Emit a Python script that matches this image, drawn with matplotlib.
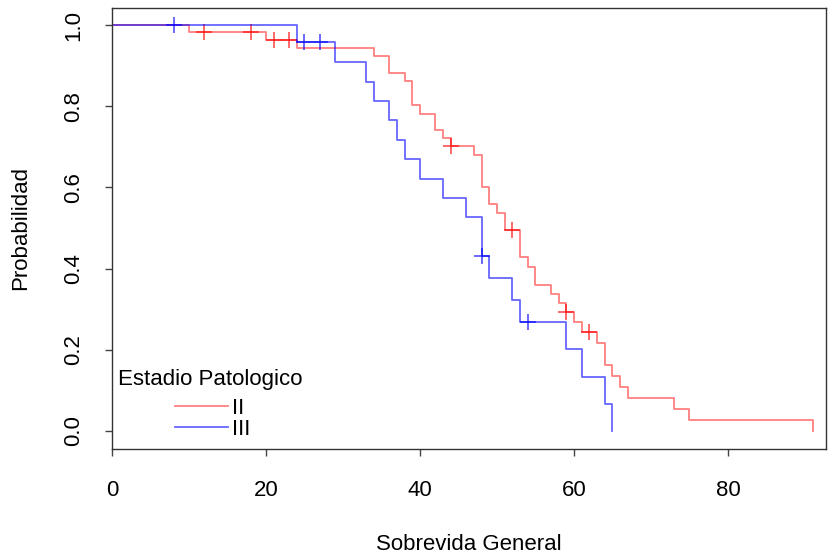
import numpy as np
import matplotlib
matplotlib.use("Agg")
import matplotlib.pyplot as plt

plt.rcParams['font.family'] = ['Liberation Sans', 'DejaVu Sans']

# Kaplan-Meier curves (event times, survival after each step)
t_ii = [0, 10, 20, 24, 34, 36, 38, 39, 40, 42, 43, 44, 47, 48, 49, 50, 51, 53, 54,
        55, 57, 58, 59, 60, 61, 63, 64, 65, 66, 67, 73, 75, 91]
s_ii = [1.0, 0.982, 0.964, 0.944, 0.923, 0.883, 0.863, 0.802, 0.782, 0.742, 0.722,
        0.702, 0.680, 0.600, 0.558, 0.538, 0.495, 0.428, 0.405, 0.360, 0.337, 0.315,
        0.292, 0.269, 0.245, 0.217, 0.163, 0.136, 0.108, 0.081, 0.054, 0.027, 0.0]
cens_ii = [12, 18, 21, 23, 44, 52, 59, 62]

t_iii = [0, 24, 29, 33, 34, 36, 37, 38, 40, 43, 46, 48, 49, 52, 53, 59, 61, 64, 65]
s_iii = [1.0, 0.958, 0.910, 0.860, 0.812, 0.766, 0.718, 0.670, 0.622, 0.574, 0.526,
         0.430, 0.376, 0.323, 0.269, 0.202, 0.134, 0.067, 0.0]
cens_iii = [8, 25, 27, 48, 54]

groups = ['II', 'III']
colors = [(1, 0, 0, 0.5), (0, 0, 1, 0.6)]
mark_colors = [(1, 0, 0, 0.75), (0, 0, 1, 0.75)]


def surv_at(times, surv, c):
    i = np.searchsorted(times, c, side='right') - 1
    return surv[i]


fig = plt.figure(figsize=(8.31, 5.55), dpi=100)
ax = fig.add_axes([112 / 831, 1 - 449 / 555, 714 / 831, 441 / 555])

data = [(t_ii, s_ii, cens_ii), (t_iii, s_iii, cens_iii)]
for k, (t, s, c) in enumerate(data):
    ax.step(t, s, where='post', color=colors[k], lw=1.3, label=groups[k])
    cy = [surv_at(t, s, x) for x in c]
    ax.plot(c, cy, ls='none', marker='+', ms=11, mew=1.1, color=mark_colors[k])

ax.set_xlim(0, 92.73)
ax.set_ylim(-0.0443, 1.042)
ax.set_xticks([0, 20, 40, 60, 80])
ax.set_yticks([0.0, 0.2, 0.4, 0.6, 0.8, 1.0])
ax.set_yticklabels(['0.0', '0.2', '0.4', '0.6', '0.8', '1.0'], rotation=90, va='center')
ax.tick_params(axis='both', labelsize=16, length=5, width=1, color='#444444')
ax.tick_params(axis='x', pad=17)
ax.tick_params(axis='y', pad=15)
for sp in ax.spines.values():
    sp.set_color('#333333')
    sp.set_linewidth(1)

ax.set_xlabel('Sobrevida General', fontsize=16, labelpad=24)
ax.set_ylabel('Probabilidad', fontsize=16, labelpad=23)

# legend entries, title placed separately (R-style spacing)
leg = ax.legend(loc='lower left', bbox_to_anchor=(63 / 714, 9 / 441),
                frameon=False, fontsize=16, handlelength=2.4,
                handletextpad=0.15, labelspacing=0.0, borderpad=0.0, borderaxespad=0.0)
ax.text(98 / 714, 70 / 441, 'Estadio Patologico', transform=ax.transAxes,
        fontsize=16, ha='center', va='center')

fig.savefig('out.png', dpi=100)
